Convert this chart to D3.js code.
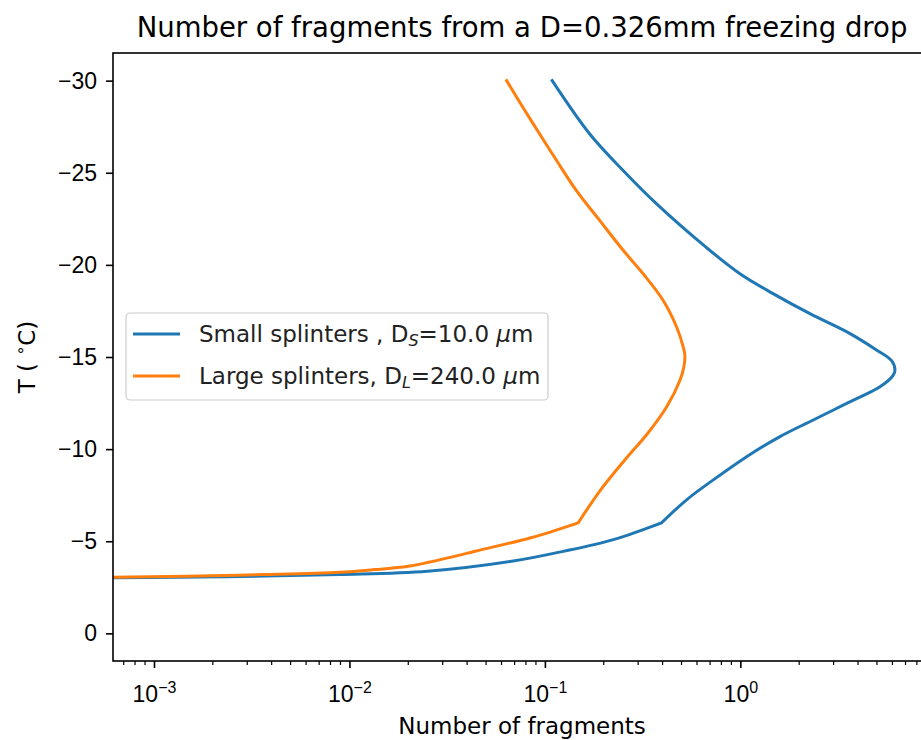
<!DOCTYPE html>
<html>
<head>
<meta charset="utf-8">
<script src="https://cdn.jsdelivr.net/npm/d3@7"></script>
<style>
  html, body { margin: 0; padding: 0; background: #ffffff; }
  svg { display: block; font-family: "DejaVu Sans", sans-serif; }
</style>
</head>
<body>
<svg id="chart" width="921" height="740"></svg>
<script>
// ---------------- data ----------------
const titleText = "Number of fragments from a D=0.326mm freezing drop";
const xLabelText = "Number of fragments";

// Small splinters (D_S = 10 µm): temperature (°C) and number of fragments
const tempSmall = [-3.0, -3.07, -3.19, -3.37, -3.91, -4.45, -5.09, -6.0,
  -7.25, -8.33, -9.59, -10.68, -11.58, -12.48, -13.38, -14.0, -14.3, -14.8,
  -15.37, -16.27, -17.35, -18.44, -19.52, -20.96, -23.31, -25.11, -27.09, -30.0];
const fragSmall = [0.0003, 0.0023, 0.0089, 0.0251, 0.0676, 0.124, 0.224, 0.395,
  0.531, 0.727, 1.077, 1.595, 2.36, 3.50, 5.18, 6.05, 6.18, 5.94,
  4.99, 3.64, 2.27, 1.47, 0.995, 0.667, 0.373, 0.252, 0.170, 0.109];

// Large splinters (D_L = 240 µm)
const tempLarge = [-3.0, -3.10, -3.19, -3.32, -3.46, -3.64, -4.18, -4.46, -5.19, -6.0,
  -7.79, -9.42, -10.86, -12.30, -13.74, -14.46, -15.1, -15.55, -16.63, -18.07,
  -19.52, -20.78, -22.40, -24.03, -25.65, -27.09, -28.53, -30.0];
const fragLarge = [0.0002, 0.00146, 0.0036, 0.0089, 0.0134, 0.020, 0.0344, 0.044, 0.0848, 0.148,
  0.193, 0.257, 0.336, 0.420, 0.491, 0.514, 0.520, 0.510, 0.472, 0.403,
  0.318, 0.252, 0.191, 0.145, 0.115, 0.0942, 0.0774, 0.0637];

// temperature where the curves have a kink
const kinkTemp = -6.0;

const seriesNames = ["Small splinters , D", "Large splinters, D"];
const seriesSubs = ["S", "L"];
const seriesSizes = ["=10.0 ", "=240.0 "];
const seriesColors = ["#1f77b4", "#ff7f0e"];

const xMajorTicks = [1e-3, 1e-2, 1e-1, 1e0];
const xMajorExp = ["\u22123", "\u22122", "\u22121", "0"];
const yTicks = [-30, -25, -20, -15, -10, -5, 0];

const xDomain = [6.17e-4, 9.45];
const yDomain = [1.5, -31.5];

// ---------------- layout ----------------
const L = 113, T = 53, R = 931, B = 661;
const FS = 23;
const svg = d3.select("#chart");

const x = d3.scaleLog().domain(xDomain).range([L, R]);
const y = d3.scaleLinear().domain(yDomain).range([B, T]);

svg.append("defs").append("clipPath").attr("id", "plotclip")
  .append("rect").attr("x", L).attr("y", T).attr("width", R - L).attr("height", B - T);

// smooth curve on each side of the kink
const line = d3.line()
  .x(d => x(d[0]))
  .y(d => y(d[1]))
  .curve(d3.curveCatmullRom.alpha(0.5));

function pathFor(vals) {
  const lower = vals.filter(d => d[1] >= kinkTemp);
  const upper = vals.filter(d => d[1] <= kinkTemp);
  const p1 = line(lower);
  const p2 = line(upper);
  return p1 + "L" + p2.slice(1);
}

const series = [
  { vals: fragSmall.map((v, i) => [v, tempSmall[i]]), color: seriesColors[0] },
  { vals: fragLarge.map((v, i) => [v, tempLarge[i]]), color: seriesColors[1] }
];

svg.append("g").attr("clip-path", "url(#plotclip)")
  .selectAll("path").data(series).join("path")
  .attr("d", d => pathFor(d.vals))
  .attr("fill", "none")
  .attr("stroke", d => d.color)
  .attr("stroke-width", 3)
  .attr("stroke-linejoin", "round")
  .attr("stroke-linecap", "square");

// minor x ticks
const minorTicks = [];
for (let e = -4; e <= 1; e++) {
  for (let m = 2; m <= 9; m++) {
    const v = m * Math.pow(10, e);
    if (v >= xDomain[0] && v <= xDomain[1]) minorTicks.push(v);
  }
}
svg.append("g").selectAll("line").data(minorTicks).join("line")
  .attr("x1", d => x(d)).attr("x2", d => x(d))
  .attr("y1", B).attr("y2", B + 4)
  .attr("stroke", "#000").attr("stroke-width", 1.2);

// x axis major
const xAxis = svg.append("g").attr("transform", `translate(0,${B})`)
  .call(d3.axisBottom(x).tickValues(xMajorTicks).tickSize(7).tickSizeOuter(0).tickFormat(""));
xAxis.select(".domain").remove();
xAxis.selectAll(".tick line").attr("stroke-width", 1.6);
xAxis.selectAll(".tick").each(function (d, i) {
  const t = d3.select(this).append("text")
    .attr("fill", "#000")
    .attr("y", 41)
    .attr("text-anchor", "middle")
    .style("font-size", FS + "px");
  t.append("tspan").text("10");
  t.append("tspan").attr("dy", -9).style("font-size", "16px").text(xMajorExp[i]);
});

// y axis
const yAxis = svg.append("g").attr("transform", `translate(${L},0)`)
  .call(d3.axisLeft(y).tickValues(yTicks).tickSize(7).tickSizeOuter(0).tickPadding(9)
    .tickFormat(d => d < 0 ? "\u2212" + Math.abs(d) : String(d)));
yAxis.select(".domain").remove();
yAxis.selectAll(".tick line").attr("stroke-width", 1.6);
yAxis.selectAll(".tick text").attr("fill", "#000").style("font-size", FS + "px");

// frame
svg.append("rect").attr("x", L).attr("y", T).attr("width", R - L).attr("height", B - T)
  .attr("fill", "none").attr("stroke", "#000").attr("stroke-width", 1.6);

// title
svg.append("text").attr("x", (L + R) / 2).attr("y", 37)
  .attr("text-anchor", "middle").style("font-size", "27.5px").attr("fill", "#000")
  .text(titleText);

// x label
svg.append("text").attr("x", (L + R) / 2).attr("y", 734)
  .attr("text-anchor", "middle").style("font-size", FS + "px").attr("fill", "#000")
  .text(xLabelText);

// y label
const yl = svg.append("text")
  .attr("transform", `translate(35,${(T + B) / 2}) rotate(-90)`)
  .attr("text-anchor", "middle").style("font-size", FS + "px").attr("fill", "#000");
yl.append("tspan").text("T ( ");
yl.append("tspan").attr("dy", -9).style("font-size", "16px").text("\u2218");
yl.append("tspan").attr("dy", 9).text("C)");

// legend
const lg = svg.append("g");
lg.append("rect").attr("x", 126).attr("y", 313).attr("width", 422).attr("height", 87)
  .attr("rx", 4).attr("ry", 4)
  .attr("fill", "rgba(255,255,255,0.8)").attr("stroke", "#cccccc").attr("stroke-width", 1.2);
seriesNames.forEach((name, i) => {
  const cy = 334 + i * 42;
  lg.append("line").attr("x1", 133).attr("x2", 180).attr("y1", cy).attr("y2", cy)
    .attr("stroke", seriesColors[i]).attr("stroke-width", 3);
  const t = lg.append("text").attr("x", 199).attr("y", cy + 8)
    .style("font-size", FS + "px").attr("fill", "#222");
  t.append("tspan").text(name);
  t.append("tspan").attr("dy", 4).style("font-size", "16px").style("font-style", "italic").text(seriesSubs[i]);
  t.append("tspan").attr("dy", -4).text(seriesSizes[i]);
  t.append("tspan").style("font-style", "italic").text("\u03bc");
  t.append("tspan").text("m");
});
</script>
</body>
</html>
